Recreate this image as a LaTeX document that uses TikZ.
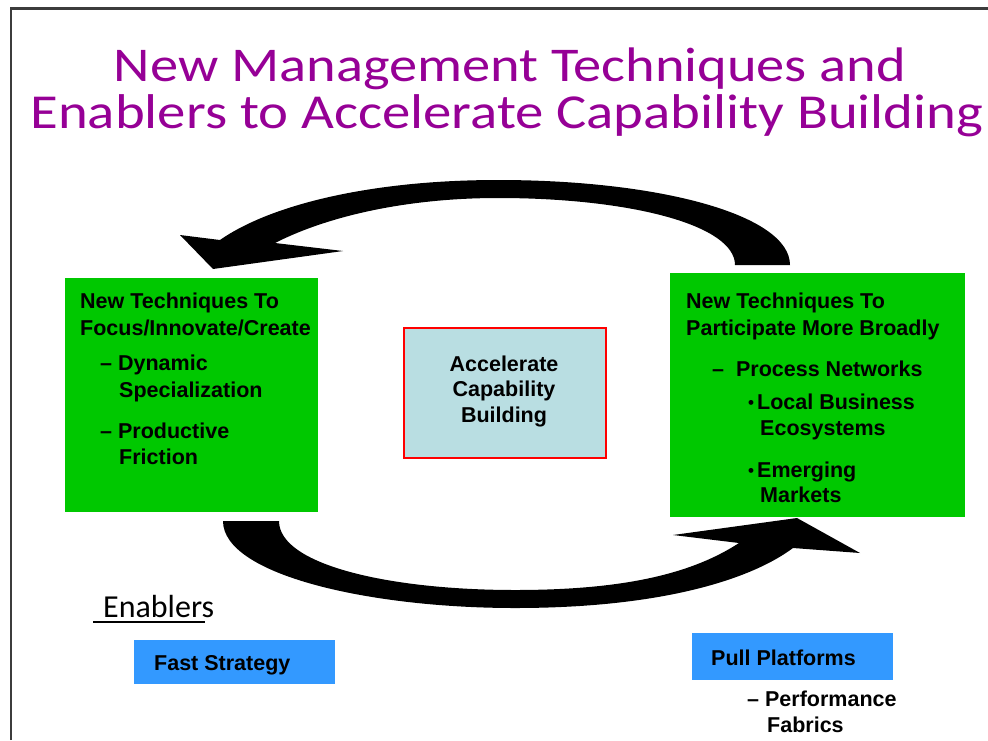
\documentclass[tikz,border=0pt]{standalone}
\usepackage{fontspec}
\setmainfont{Liberation Sans}
\newfontfamily\titlefont{Carlito}
\usepackage{graphicx}
\definecolor{boxgreen}{RGB}{0,200,0}
\definecolor{boxblue}{RGB}{51,153,255}
\definecolor{centerfill}{RGB}{185,222,226}
\definecolor{titlepurple}{RGB}{150,0,150}
\definecolor{framegray}{RGB}{60,60,60}
\newcommand{\smallbullet}{\raisebox{1pt}{\fontsize{17}{17}\selectfont•}}
\begin{document}
\begin{tikzpicture}[x=1pt,y=-1pt,
  body/.style={font=\fontsize{21.5}{26}\selectfont\bfseries, inner sep=0pt, anchor=base west, text=black},
  bodyc/.style={body, anchor=base},
  greenbox/.style={fill=boxgreen, draw=none, inner sep=0pt, anchor=north west},
  bluebox/.style={fill=boxblue, draw=none, inner sep=0pt, anchor=north west},
  centerbox/.style={fill=centerfill, draw=red, line width=1.6pt, inner sep=0pt, anchor=north west},
  titletext/.style={font=\titlefont\fontsize{56}{60}\selectfont, text=titlepurple, inner sep=0pt, anchor=base},
  blockarrow/.style={fill=black, draw=none}
]
\useasboundingbox (0,0) rectangle (988,740);
\fill[white] (0,0) rectangle (988,740);
% frame
\draw[framegray, line width=2.5pt] (11,740) -- (11,8.5) -- (988,8.5);

% title
\node[titletext] (t1) at (510,81) {\resizebox{792pt}{!}{\scalebox{1}[0.86]{New Management Techniques and}}};
\node[titletext] (t2) at (507,128) {\resizebox{953pt}{!}{\scalebox{1}[0.86]{Enablers to Accelerate Capability Building}}};

% curved block arrows
\fill[blockarrow] (790,265) .. controls (790,215) and (660,180) .. (498,180)
  .. controls (370,180) and (270,205) .. (220,240) -- (180,235) -- (213,269) -- (343,251) -- (275,243)
  .. controls (330,215) and (410,198) .. (498,198)
  .. controls (630,198) and (735,225) .. (735,265) -- cycle;
\fill[blockarrow] (223,521) .. controls (223,575) and (370,608) .. (515,608)
  .. controls (660,608) and (750,580) .. (793,548) -- (860,553) -- (797,518) -- (673,535) -- (739,543)
  .. controls (690,575) and (620,590) .. (515,590)
  .. controls (390,590) and (279,565) .. (279,521) -- cycle;

% left green box
\node[greenbox, minimum width=253pt, minimum height=234pt] (lbox) at (65,278) {};
\node[body] (l1) at (80,308) {New Techniques To};
\node[body] (l2) at (80,335) {Focus/Innovate/Create};
\node[body] (l3) at (100,370) {– Dynamic};
\node[body] (l4) at (119,397) {Specialization};
\node[body] (l5) at (100,438) {– Productive};
\node[body] (l6) at (119,464) {Friction};

% right green box
\node[greenbox, minimum width=295pt, minimum height=244pt] (rbox) at (670,273) {};
\node[body] (r1) at (686,308) {New Techniques To};
\node[body] (r2) at (686,335) {Participate More Broadly};
\node[body] (r3) at (712,376) {–\ \ Process Networks};
\node[body] (r4) at (748,409) {\smallbullet\hspace{3pt}Local Business};
\node[body] (r5) at (760,435) {Ecosystems};
\node[body] (r6) at (748,477) {\smallbullet\hspace{3pt}Emerging};
\node[body] (r7) at (760,502) {Markets};

% center box
\node[centerbox, minimum width=202pt, minimum height=130pt] (cbox) at (403,327) {};
\node[bodyc] (c1) at (504,371) {Accelerate};
\node[bodyc] (c2) at (504,396) {Capability};
\node[bodyc] (c3) at (504,422) {Building};

% enablers
\node[font=\titlefont\fontsize{32}{36}\selectfont, inner sep=0pt, anchor=base west] (en) at (103,617) {Enablers};
\draw[black, line width=1.6pt] ([xshift=-10pt,yshift=-5pt]en.base west) -- ([xshift=-9pt,yshift=-5pt]en.base east);

\node[bluebox, minimum width=201pt, minimum height=44pt] (fbox) at (134,640) {};
\node[body] (f1) at (154,670) {Fast Strategy};

\node[bluebox, minimum width=201pt, minimum height=47pt] (pbox) at (692,633) {};
\node[body] (p1) at (711,665) {Pull Platforms};
\node[body] (p2) at (747,706) {– Performance};
\node[body] (p3) at (767,732) {Fabrics};
\end{tikzpicture}
\end{document}
